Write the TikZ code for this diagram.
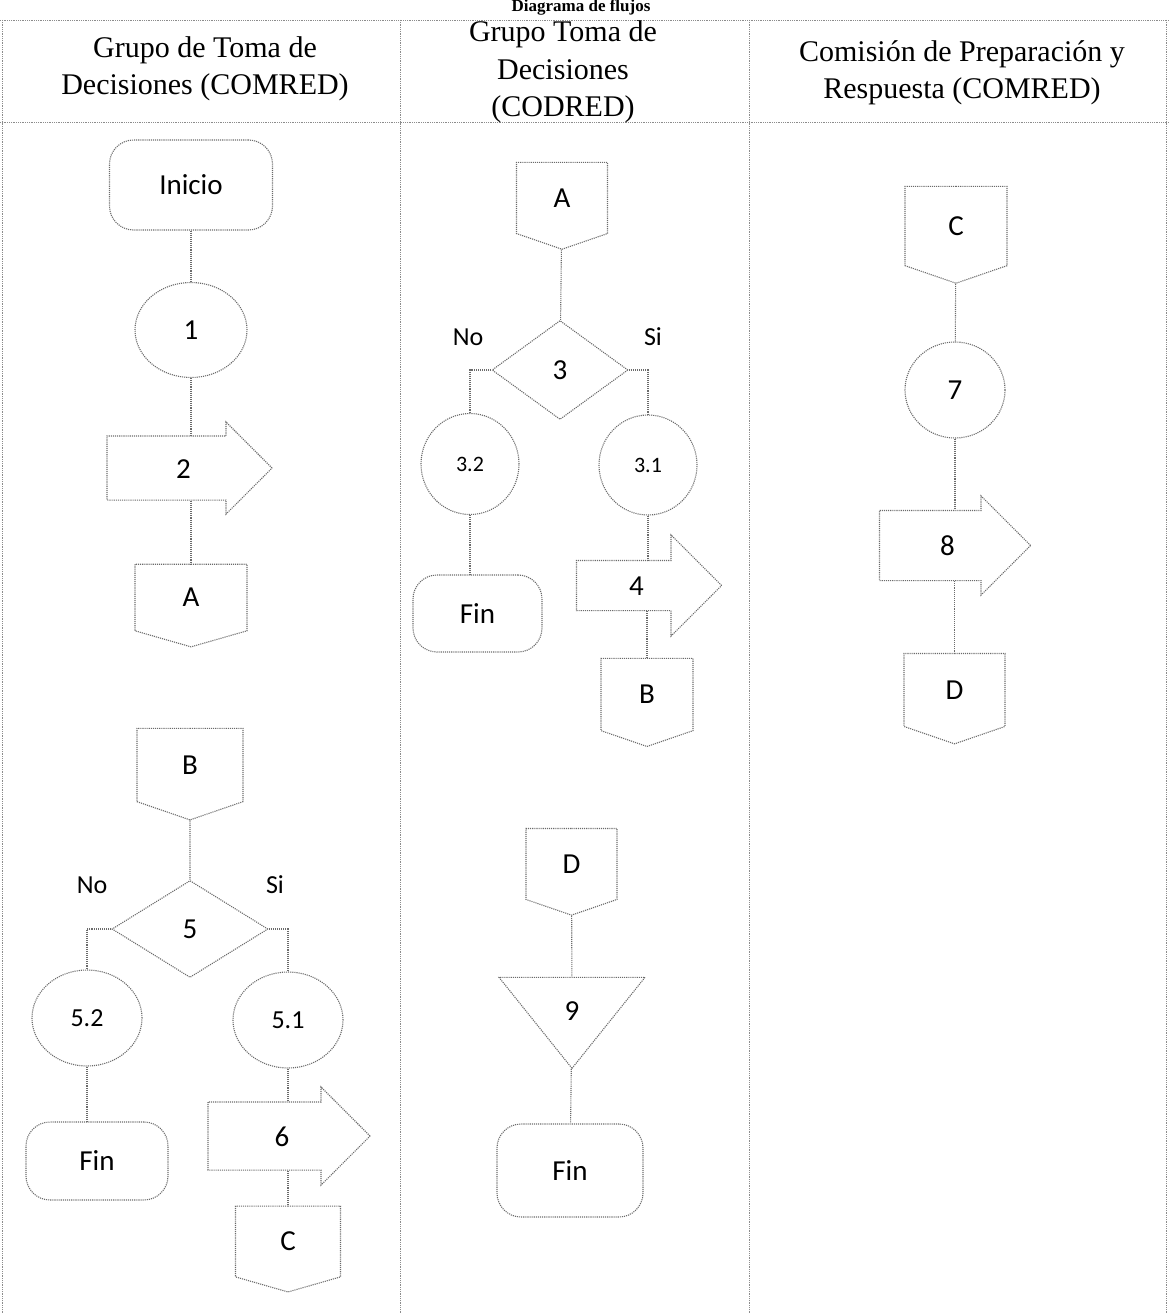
\documentclass[tikz,border=0pt]{standalone}
\usepackage{fontspec}
\setmainfont{Liberation Serif}
\newfontfamily\boxfont{Carlito}
\usetikzlibrary{shapes.geometric,shapes.symbols,shapes.arrows,calc}
\definecolor{LineClr}{gray}{0.42}
\definecolor{GridClr}{gray}{0.55}

\begin{document}
\begin{tikzpicture}[x=1pt,y=-1pt,
  flowline/.style={draw=LineClr,densely dotted,line width=1.1pt},
  boxtext/.style={font=\boxfont\fontsize{29}{33}\selectfont},
  smalltext/.style={font=\boxfont\fontsize{#1}{#1}\selectfont},
  terminal/.style={flowline,boxtext,rectangle,rounded corners=24pt,inner sep=0pt},
  process/.style={flowline,boxtext,ellipse,inner sep=0pt,minimum width=110pt,minimum height=96pt},
  decision/.style={flowline,boxtext,diamond,inner sep=0pt},
  movearrow/.style={flowline,boxtext,single arrow,text height=20pt,text depth=0pt,inner xsep=0pt},
  pushtext/.style={execute at begin node={\hspace*{20pt}}},
  offpage/.style={flowline,boxtext,signal,signal to=south,signal pointer angle=142,inner sep=0pt},
  storage/.style={flowline,boxtext,isosceles triangle,isosceles triangle stretches,shape border rotate=270,inner sep=0pt},
  answer/.style={smalltext=26},
  header/.style={align=center,font=\fontsize{30}{37.5}\selectfont}]
\useasboundingbox (0,0) rectangle (1169,1313);

% Title and the table.
\node[anchor=base,font=\bfseries\fontsize{17}{20}\selectfont] (title) at (581,12) {Diagrama de flujos};
\draw[GridClr,densely dotted,line width=0.8pt] (0,20) -- (1169,20) (0,122) -- (1169,122);
\draw[GridClr,densely dotted,line width=0.8pt] (2,20) -- (2,1313) (400,20) -- (400,1313)
  (749,20) -- (749,1313) (1166,20) -- (1166,1313);

\node[header] (hcomred) at (205,69) {Grupo de Toma de\\Decisiones (COMRED)};
\node[header] (hcodred) at (563,72) {Grupo Toma de\\Decisiones\\(CODRED)};
\node[header] (hcomision) at (962,73) {Comisión de Preparación y\\Respuesta (COMRED)};

% First column.
\node[terminal,minimum width=163pt,minimum height=90pt] (inicio) at (191,185) {Inicio};
\node[process,minimum width=112pt,minimum height=95pt] (p1) at (191,330) {1};
\node[movearrow,pushtext,minimum height=165pt,inner ysep=21.5pt,single arrow head extend=14pt] (a2) at (173.5,468) {2};
\node[offpage,signal pointer angle=148,minimum width=112pt,minimum height=69pt] (offA) at (191,597.5) {A};

\node[offpage,minimum width=106pt,minimum height=76pt] (offB) at (190,765) {B};
\node[decision,minimum width=156pt,minimum height=97pt] (d5) at (190,929) {5};
\node[answer] (no5) at (92,885) {No};
\node[answer] (si5) at (275,885) {Si};
\node[process,smalltext=26] (p52) at (87,1018) {5.2};
\node[process,smalltext=26] (p51) at (288,1020) {5.1};
\node[terminal,minimum width=142pt,minimum height=78pt] (finL) at (97,1161) {Fin};
\node[movearrow,pushtext,minimum height=162pt,inner ysep=23.5pt,single arrow head extend=15pt] (a6) at (272,1136) {6};
\node[offpage,signal pointer angle=148,minimum width=105pt,minimum height=73pt] (offC) at (288,1241.5) {C};

\draw[flowline] (inicio) -- (p1);
\draw[flowline] (p1.south) -- (p1.south |- a2.north);
\draw[flowline] (offA.north |- a2.south) -- (offA.north);
\draw[flowline] (offB) -- (d5);
\draw[flowline] (d5.west) -| (p52.north);
\draw[flowline] (d5.east) -| (p51.north);
\draw[flowline] (p52.south) -- (p52.south |- finL.north);
\draw[flowline] (p51.south) -- (p51.south |- a6.north);
\draw[flowline] (offC.north |- a6.south) -- (offC.north);

% Second column.
\node[offpage,minimum width=91pt,minimum height=74pt] (offA2) at (562,198) {A};
\node[decision,minimum width=136pt,minimum height=99pt] (d3) at (560,370) {3};
\node[answer] (no3) at (468,337) {No};
\node[answer] (si3) at (653,337) {Si};
\node[process,minimum width=98pt,minimum height=101pt,smalltext=22] (p32) at (470,464) {3.2};
\node[process,minimum width=98pt,minimum height=100pt,smalltext=22] (p31) at (648,465) {3.1};
\node[terminal,minimum width=129pt,minimum height=77pt] (finM) at (477.5,613.5) {Fin};
\node[movearrow,minimum height=145pt,inner ysep=14.5pt,single arrow head extend=25.5pt] (a4) at (636.5,585.5) {4};
\node[offpage,minimum width=92pt,minimum height=75pt] (offB2) at (647,694.5) {B};

\node[offpage,minimum width=91pt,minimum height=74pt] (offD2) at (571.5,864) {D};
\node[storage,minimum width=146pt,minimum height=91pt] (t9) at (572,1011) {9};
\node[terminal,minimum width=146pt,minimum height=93pt] (finB) at (570,1170.5) {Fin};

\draw[flowline] (offA2) -- (d3);
\draw[flowline] (d3.west) -| (p32.north);
\draw[flowline] (d3.east) -| (p31.north);
\draw[flowline] (p32.south) -- (p32.south |- finM.north);
\draw[flowline] (p31.south) -- (p31.south |- a4.north);
\draw[flowline] (offB2.north |- a4.south) -- (offB2.north);
\draw[flowline] (offD2) -- (t9);
\draw[flowline] (t9) -- (finB);

% Third column.
\node[offpage,minimum width=102pt,minimum height=82pt] (offC3) at (956,226) {C};
\node[process,minimum width=100pt,minimum height=96pt] (p7) at (955,390) {7};
\node[movearrow,pushtext,minimum height=151pt,inner ysep=24.5pt,single arrow head extend=14.5pt] (a8) at (937.5,545.5) {8};
\node[offpage,minimum width=101pt,minimum height=76pt] (offD3) at (954.5,690) {D};

\draw[flowline] (offC3) -- (p7);
\draw[flowline] (p7.south) -- (p7.south |- a8.north);
\draw[flowline] (offD3.north |- a8.south) -- (offD3.north);

\end{tikzpicture}
\end{document}
